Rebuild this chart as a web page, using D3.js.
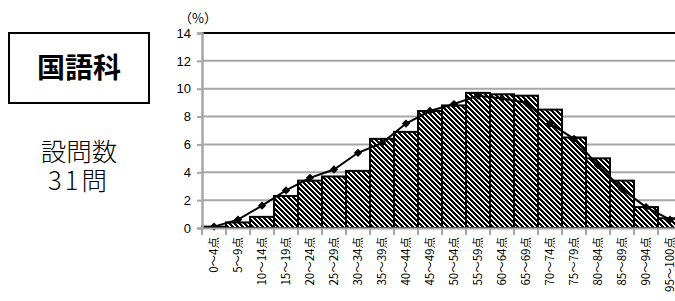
<!DOCTYPE html>
<html>
<head>
<meta charset="utf-8">
<script src="https://cdn.jsdelivr.net/npm/d3@7"></script>
<style>
  body { margin: 0; background: #fff; }
  svg { display: block; }
  text { font-family: "Noto Sans CJK JP", "DejaVu Sans", sans-serif; }
</style>
</head>
<body>
<svg width="675" height="301"></svg>
<script>
// score bands and the two series (percent of students)
var categories = ["0～4点", "5～9点", "10～14点", "15～19点", "20～24点", "25～29点", "30～34点",
    "35～39点", "40～44点", "45～49点", "50～54点", "55～59点", "60～64点", "65～69点",
    "70～74点", "75～79点", "80～84点", "85～89点", "90～94点", "95～100点"]
var barValues = [0.1, 0.4, 0.8, 2.3, 3.4, 3.7, 4.1, 6.4, 6.9, 8.4, 8.8, 9.7, 9.6, 9.5, 8.5, 6.5, 5.0, 3.4, 1.5, 0.7]
var lineValues = [0.1, 0.6, 1.6, 2.7, 3.6, 4.2, 5.4, 6.1, 7.5, 8.4, 8.9, 9.5, 9.3, 9.0, 7.5, 6.4, 4.5, 2.8, 1.5, 0.6]
var yTicks = [0, 2, 4, 6, 8, 10, 12, 14]

var svg = d3.select("svg")
var xScale = d3.scaleBand().domain(categories).range([202, 682]).padding(0)
var yScale = d3.scaleLinear().domain([0, 14]).range([228, 33])

// pixel hatch pattern (downward diagonal) for bars
var P = 5
var defs = svg.append("defs")
var pat = defs.append("pattern")
    .attr("id", "hatch")
    .attr("patternUnits", "userSpaceOnUse")
    .attr("width", P).attr("height", P)
pat.append("rect").attr("width", P).attr("height", P).attr("fill", "#fff")
var px = []
for (var yy = 0; yy < P; yy++) {
    for (var xx = 0; xx < P; xx++) {
        if (((xx - yy) % P + P) % P < 3) px.push([xx, yy])
    }
}
pat.selectAll("rect.px")
    .data(px)
    .enter()
    .append("rect")
    .attr("class", "px")
    .attr("x", d => d[0]).attr("y", d => d[1])
    .attr("width", 1).attr("height", 1)
    .attr("fill", "#000")
    .attr("shape-rendering", "crispEdges")

// left side panel
svg.append("rect")
    .attr("x", 9).attr("y", 33).attr("width", 140).attr("height", 70)
    .attr("fill", "none").attr("stroke", "#000").attr("stroke-width", 2)
svg.append("text")
    .attr("x", 79).attr("y", 78)
    .attr("text-anchor", "middle")
    .attr("font-size", 28).attr("font-weight", "bold")
    .text("国語科")
svg.append("text")
    .attr("x", 79).attr("y", 161)
    .attr("text-anchor", "middle")
    .attr("font-size", 25.5).attr("font-weight", 300)
    .text("設問数")
svg.append("text")
    .attr("x", 79).attr("y", 190)
    .attr("text-anchor", "middle")
    .attr("font-size", 25.5).attr("font-weight", 300)
    .attr("letter-spacing", 3)
    .text("31問")

// gridlines
svg.append("g")
    .selectAll("line")
    .data(yTicks.filter(d => d > 0 && d < 14))
    .enter()
    .append("line")
    .attr("x1", 202).attr("x2", 682)
    .attr("y1", d => yScale(d)).attr("y2", d => yScale(d))
    .attr("stroke", "#a6a6a6").attr("stroke-width", 2)
svg.append("line")
    .attr("x1", 202).attr("x2", 682)
    .attr("y1", yScale(14)).attr("y2", yScale(14))
    .attr("stroke", "#000").attr("stroke-width", 2)

// bars
svg.append("g")
    .selectAll("rect")
    .data(barValues)
    .enter()
    .append("rect")
    .attr("x", (d, i) => xScale(categories[i]))
    .attr("y", d => yScale(d))
    .attr("width", xScale.bandwidth())
    .attr("height", d => yScale(0) - yScale(d))
    .attr("fill", "url(#hatch)")
    .attr("stroke", "#000").attr("stroke-width", 2)

// line with diamond markers
var line = d3.line()
    .x((d, i) => xScale(categories[i]) + xScale.bandwidth() / 2)
    .y(d => yScale(d))
svg.append("path")
    .datum(lineValues)
    .attr("d", line)
    .attr("fill", "none").attr("stroke", "#000").attr("stroke-width", 2)
svg.append("g")
    .selectAll("path")
    .data(lineValues)
    .enter()
    .append("path")
    .attr("d", d3.symbol().type(d3.symbolDiamond2).size(44))
    .attr("transform", (d, i) => "translate(" + (xScale(categories[i]) + xScale.bandwidth() / 2) + "," + yScale(d) + ")")
    .attr("fill", "#000")

// y axis
var yAxis = d3.axisLeft(yScale).tickValues(yTicks).tickSize(5).tickPadding(6)
var yg = svg.append("g").attr("transform", "translate(202,0)").call(yAxis)
yg.select(".domain").attr("stroke", "#a6a6a6").attr("stroke-width", 2.5)
yg.selectAll(".tick line").attr("stroke", "#a6a6a6").attr("stroke-width", 2)
yg.selectAll(".tick text")
    .attr("font-size", 13).attr("fill", "#000")
    .style("font-family", "'Liberation Sans', sans-serif")

// x axis
var xAxis = d3.axisBottom(xScale).tickSize(0).tickPadding(6)
var xg = svg.append("g").attr("transform", "translate(0,228)").call(xAxis)
xg.select(".domain").attr("stroke", "#a6a6a6").attr("stroke-width", 2)
xg.selectAll(".tick text")
    .attr("font-size", 11.5).attr("fill", "#000")
    .attr("transform", "rotate(-90)")
    .attr("text-anchor", "end")
    .attr("x", -9).attr("y", 0).attr("dy", "0.35em")
xg.selectAll(".sep")
    .data(categories.concat(["end"]))
    .enter()
    .append("line")
    .attr("class", "sep")
    .attr("x1", (d, i) => 202 + i * xScale.bandwidth())
    .attr("x2", (d, i) => 202 + i * xScale.bandwidth())
    .attr("y1", 0).attr("y2", 7)
    .attr("stroke", "#a6a6a6").attr("stroke-width", 2)

// unit label
svg.append("text")
    .attr("x", 198).attr("y", 23)
    .attr("text-anchor", "middle")
    .attr("font-size", 13)
    .text("（%）")
</script>
</body>
</html>
